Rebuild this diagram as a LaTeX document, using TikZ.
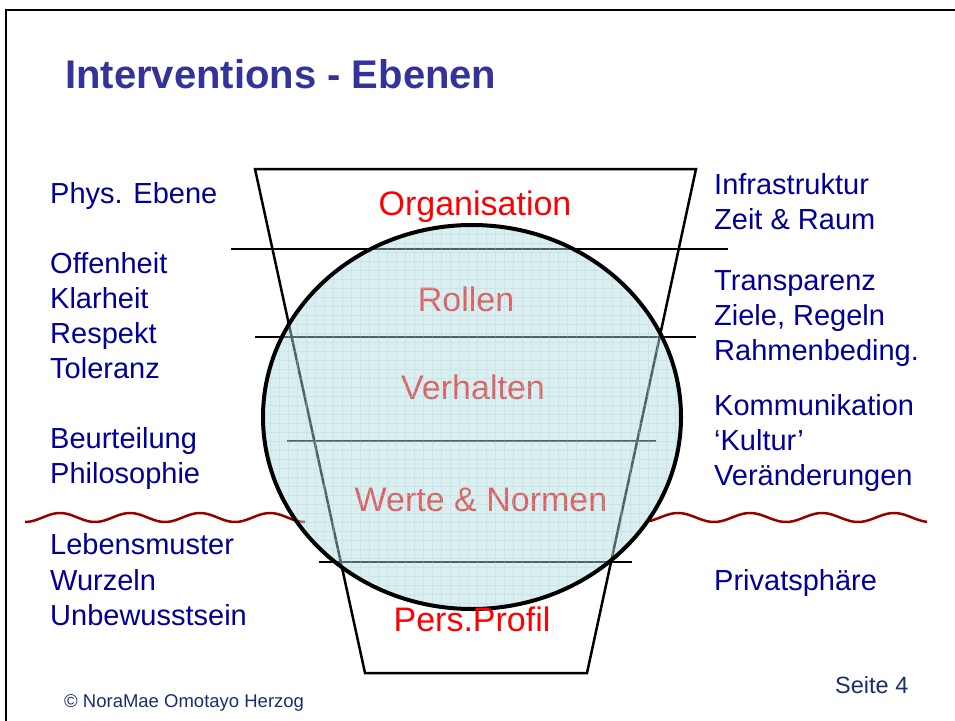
\documentclass[tikz,border=0pt]{standalone}
\usepackage{fontspec}
\setmainfont{Liberation Sans}
\usepackage{tikz}

\definecolor{titleblue}{RGB}{51,51,153}
\definecolor{textblue}{RGB}{0,0,150}
\definecolor{footblue}{RGB}{25,45,110}
\definecolor{wavered}{RGB}{150,0,0}
\definecolor{bubble}{RGB}{175,220,225}
\definecolor{gridcyan}{RGB}{165,212,218}

\begin{document}
\begin{tikzpicture}[x=1pt,y=-1pt,
    lefttext/.style={anchor=base west,inner sep=0pt,text=textblue,font=\fontsize{29}{35}\selectfont},
    layerlabel/.style={anchor=base,inner sep=0pt,text=red,font=\fontsize{34}{40}\selectfont},
    trap/.style={line width=2.5pt,line join=miter},
    cut/.style={line width=1.6pt},
    wave/.style={wavered,line width=2.5pt},
    gridline/.style={gridcyan,line width=0.6pt}]
      \clip (0,0) rectangle (955,720);
      \draw[line width=2pt] (6,10) rectangle (975,740);

      \node[anchor=base west,inner sep=0pt,text=titleblue,font=\bfseries\fontsize{40}{48}\selectfont] (title) at (65,88) {Interventions - Ebenen};

      % Trichter
      \coordinate (tl) at (255,169);
      \coordinate (tr) at (696,169);
      \coordinate (br) at (587,673);
      \coordinate (bl) at (365,673);
      \draw[trap] (tl) -- (tr) -- (br) -- (bl) -- cycle;

      \coordinate (c1a) at (231,249);
      \coordinate (c1b) at (728,249);
      \coordinate (c2a) at (255,337);
      \coordinate (c2b) at (696,337);
      \coordinate (c3a) at (287,441);
      \coordinate (c3b) at (656,441);
      \coordinate (c4a) at (319,562);
      \coordinate (c4b) at (632,562);
      \draw[cut] (c1a) -- (c1b);
      \draw[cut] (c2a) -- (c2b);
      \draw[cut] (c3a) -- (c3b);
      \draw[cut] (c4a) -- (c4b);

      % Wasserlinie
      \draw[wave] plot[domain=25:305,samples=90,smooth] (\x,{517.5+4.5*cos((\x-25)/70*360)});
      \draw[wave] plot[domain=650:927,samples=90,smooth] (\x,{517.5+4.5*cos((\x-642)/72*360)});

      \node[layerlabel] (rollen) at (466,311) {Rollen};
      \node[layerlabel] (verhalten) at (473,399) {Verhalten};
      \node[layerlabel] (werte) at (481,511) {Werte \& Normen};

      % Kugel
      \fill[bubble,fill opacity=0.45] (472,417) ellipse [x radius=209pt,y radius=192pt];
      \begin{scope}
        \clip (472,417) ellipse [x radius=209pt,y radius=192pt];
        \draw[gridline,opacity=0.35] (262,224) grid[step=9pt] (684,612);
      \end{scope}
      \draw[line width=4pt] (472,417) ellipse [x radius=209pt,y radius=192pt];

      \node[layerlabel] (org) at (475,215) {Organisation};
      \node[layerlabel] (pers) at (472,631) {Pers.Profil};

      \node[lefttext] (l1) at (50,203) {Phys. Ebene};
      \node[lefttext] (l2) at (50,273) {Offenheit};
      \node[lefttext] (l3) at (50,308) {Klarheit};
      \node[lefttext] (l4) at (50,343) {Respekt};
      \node[lefttext] (l5) at (50,378) {Toleranz};
      \node[lefttext] (l6) at (50,448) {Beurteilung};
      \node[lefttext] (l7) at (50,483) {Philosophie};
      \node[lefttext] (l8) at (50,554) {Lebensmuster};
      \node[lefttext] (l9) at (50,590) {Wurzeln};
      \node[lefttext] (l10) at (50,625) {Unbewusstsein};

      \node[lefttext] (r1) at (714,194) {Infrastruktur};
      \node[lefttext] (r2) at (714,229) {Zeit \& Raum};
      \node[lefttext] (r3) at (714,290) {Transparenz};
      \node[lefttext] (r4) at (714,325) {Ziele, Regeln};
      \node[lefttext] (r5) at (714,360) {Rahmenbeding.};
      \node[lefttext] (r6) at (714,415) {Kommunikation};
      \node[lefttext] (r7) at (714,450) {‘Kultur’};
      \node[lefttext] (r8) at (714,485) {Veränderungen};
      \node[lefttext] (r9) at (714,590) {Privatsphäre};

      \node[anchor=base west,inner sep=0pt,text=footblue,font=\fontsize{18.5}{22}\selectfont] (copy) at (64,707) {© NoraMae Omotayo Herzog};
      \node[anchor=base west,inner sep=0pt,text=footblue,font=\fontsize{23.5}{28}\selectfont] (seite) at (835,693) {Seite 4};
    \end{tikzpicture}
\end{document}
